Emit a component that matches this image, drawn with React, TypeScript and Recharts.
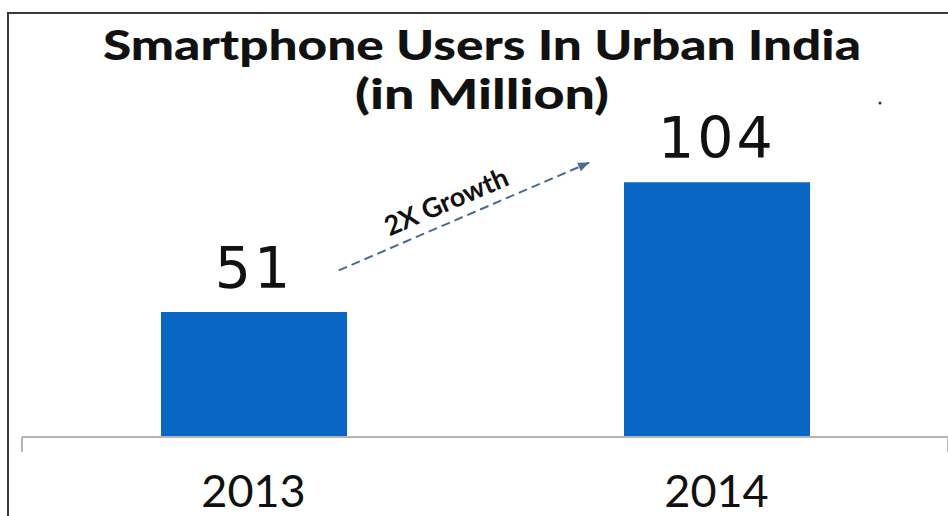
import React from 'react';
import { BarChart, Bar, XAxis, YAxis, LabelList, ReferenceLine } from 'recharts';

const years = ['2013', '2014'];
const users = [51, 104];
const title = 'Smartphone Users In Urban India';
const subtitle = '(in Million)';
const growthNote = '2X Growth';

// annotation arrow, in units of the hidden numeric axis (0..1 spans the whole plot width)
const arrowFrom = { x: 0.342, y: 68 };
const arrowTo = { x: 0.6125, y: 112 };
const edgeTicks = [0, 1];

const data = years.map((year, i) => ({ year, users: users[i] }));

const GrowthArrow = (props: any) => {
  const { x1, y1, x2, y2 } = props;
  if (x1 == null) return null;
  const ang = Math.atan2(y2 - y1, x2 - x1);
  const deg = (ang * 180) / Math.PI;
  const head = 12;
  const hx1 = x2 - head * Math.cos(ang - 0.4);
  const hy1 = y2 - head * Math.sin(ang - 0.4);
  const hx2 = x2 - head * Math.cos(ang + 0.4);
  const hy2 = y2 - head * Math.sin(ang + 0.4);
  const mx = (x1 + x2) / 2 - 14;
  const my = (y1 + y2) / 2 - 6;
  return (
    <g>
      <line x1={x1} y1={y1} x2={x2} y2={y2} stroke="#4a6a98" strokeWidth={2} strokeDasharray="9 5" />
      <polygon points={`${x2},${y2} ${hx1},${hy1} ${hx2},${hy2}`} fill="#4a6a98" />
      <text
        x={mx}
        y={my}
        transform={`rotate(${deg} ${mx} ${my})`}
        textAnchor="middle"
        fontFamily="Lato, sans-serif"
        fontWeight={700}
        fontSize={27}
        fill="#111"
      >
        {growthNote}
      </text>
    </g>
  );
};

export default function App() {
  return (
    <div style={{ position: 'absolute', left: 0, top: 0, width: 948, height: 516, background: '#fff', overflow: 'hidden' }}>
      <div
        style={{
          position: 'absolute',
          left: 7,
          top: 12,
          width: 948,
          height: 520,
          borderLeft: '2px solid #3a3a3a',
          borderTop: '2px solid #3a3a3a',
        }}
      />
      <svg width={948} height={130} style={{ position: 'absolute', left: 0, top: 0 }}>
        <text
          x={482}
          y={60}
          textAnchor="middle"
          textLength={758}
          lengthAdjust="spacingAndGlyphs"
          fontFamily="Lato, sans-serif"
          fontWeight={900}
          fontSize={41}
          fill="#111"
        >
          {title}
        </text>
        <text
          x={482}
          y={109}
          textAnchor="middle"
          textLength={254}
          lengthAdjust="spacingAndGlyphs"
          fontFamily="Lato, sans-serif"
          fontWeight={900}
          fontSize={41}
          fill="#111"
        >
          {subtitle}
        </text>
        <circle cx={880} cy={103} r={1.5} fill="#333" />
      </svg>
      <div style={{ position: 'absolute', left: 0, top: 0 }}>
        <BarChart width={948} height={516} data={data} margin={{ top: 143, right: 0, bottom: 0, left: 22 }}>
          <XAxis
            dataKey="year"
            height={79}
            axisLine={{ stroke: '#b5b5b5', strokeWidth: 2 }}
            tickLine={false}
            tickMargin={32}
            tick={{ fontSize: 45, fill: '#111', fontFamily: 'Lato, sans-serif' }}
          />
          <XAxis xAxisId="n" type="number" domain={[0, 1]} allowDataOverflow hide />
          <YAxis domain={[0, 120]} hide />
          <Bar dataKey="users" fill="#0a66c4" barSize={186} isAnimationActive={false}>
            <LabelList
              dataKey="users"
              position="top"
              offset={24}
              fontSize={57}
              fontFamily="DejaVu Sans, sans-serif"
              fill="#111"
              letterSpacing={3}
            />
          </Bar>
          {edgeTicks.map((t) => (
            <ReferenceLine
              key={t}
              xAxisId="n"
              segment={[
                { x: t, y: 0 },
                { x: t, y: -6 },
              ]}
              ifOverflow="visible"
              stroke="#b5b5b5"
              strokeWidth={2}
            />
          ))}
          <ReferenceLine
            xAxisId="n"
            segment={[arrowFrom, arrowTo]}
            ifOverflow="visible"
            shape={<GrowthArrow />}
          />
        </BarChart>
      </div>
    </div>
  );
}
